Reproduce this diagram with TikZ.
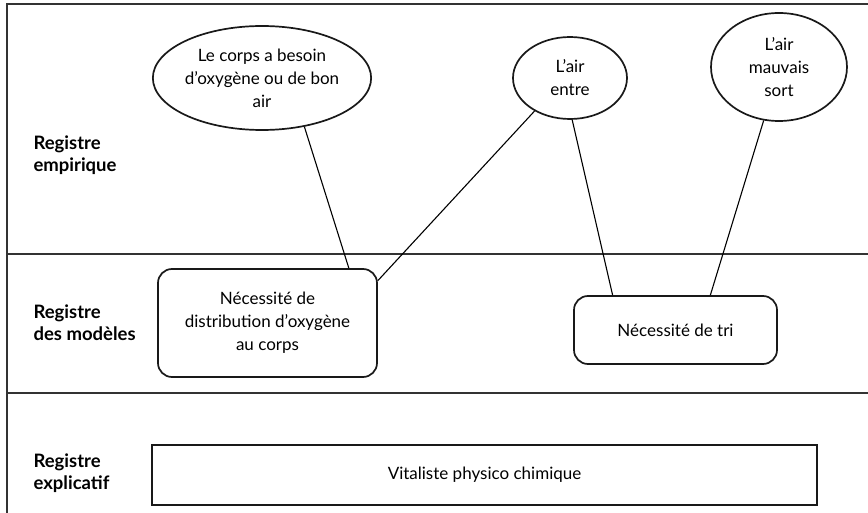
\documentclass[tikz,border=0pt]{standalone}
\usepackage{fontspec}
\setmainfont{Lato}
\usetikzlibrary{shapes.geometric}

\begin{document}
\begin{tikzpicture}[x=1pt, y=-1pt,
    every node/.style={font=\fontsize{17}{23}\selectfont},
    frame/.style={draw=black!80, line width=1.2pt},
    idea/.style={ellipse, draw=black!90, line width=1.7pt, align=center, inner sep=0pt},
    need/.style={rectangle, rounded corners=14pt, draw=black!90, line width=1.7pt, align=center},
    expl/.style={rectangle, draw=black!90, line width=1.9pt},
    reg/.style={anchor=west, align=left, font=\fontsize{18.5}{22}\selectfont\bfseries},
    link/.style={line width=1.1pt}]
      \useasboundingbox (0,0) rectangle (868,513);

      % the three registers
      \draw[frame] (7,513) -- (7,4) -- (868,4);
      \draw[frame] (7,254) -- (868,254);
      \draw[frame] (7,393) -- (868,393);

      \node [reg] (7) at (30,155) {Registre\\empirique};
      \node [reg] (8) at (30,323) {Registre\\des modèles};
      \node [reg] (9) at (30,473) {Registre\\explicatif};

      \node [idea, minimum width=200pt, minimum height=104pt] (1) at (262,78) {Le corps a besoin\\d’oxygène ou de bon\\air};
      \node [idea, minimum width=114pt, minimum height=82pt] (2) at (570,78) {L’air\\entre};
      \node [idea, minimum width=136pt, minimum height=108pt] (3) at (779,67) {L’air\\mauvais\\sort};

      \node [need, minimum width=219pt, minimum height=108pt] (4) at (267.5,323) {Nécessité de\\distribution d’oxygène\\au corps};
      \node [need, minimum width=203pt, minimum height=68pt] (5) at (675.5,330) {Nécessité de tri};
      \node [expl, minimum width=665pt, minimum height=60pt] (6) at (484.5,475) {Vitaliste physico chimique};

      \draw[link] (1.-49) -- (4.34);
      \draw[link] (2.-137) -- (4.21);
      \draw[link] (2.-87) -- (5.151);
      \draw[link] (3.-106) -- (5.45);
    \end{tikzpicture}
\end{document}
